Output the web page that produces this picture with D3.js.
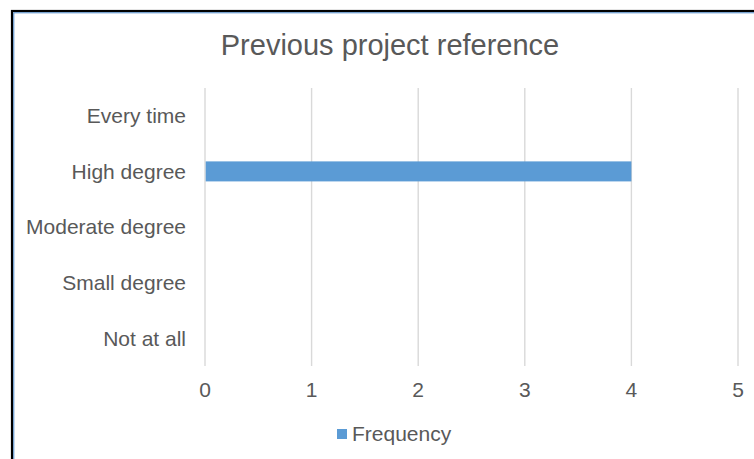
<!DOCTYPE html>
<html>
<head>
<meta charset="utf-8">
<script src="https://cdn.jsdelivr.net/npm/d3@7"></script>
<style>
  html, body { margin: 0; padding: 0; background: #fff; }
  svg { display: block; font-family: "Liberation Sans", Arial, sans-serif; }
</style>
</head>
<body>
<svg id="chart" width="754" height="459"></svg>
<script>
// Response categories, listed top to bottom
const categories = ["Every time", "High degree", "Moderate degree", "Small degree", "Not at all"];
// Frequency for each category
const frequency = [0, 4, 0, 0, 0];
// Value axis ticks
const xTicks = [0, 1, 2, 3, 4, 5];
const seriesName = "Frequency";
const chartTitle = "Previous project reference";

const svg = d3.select("#chart");
const textColor = "#595959";
const barColor = "#5b9bd5";
const gridColor = "#d9d9d9";

// Outer frame: dark border with a thin blue inner line
svg.append("rect").attr("x", 0).attr("y", 0).attr("width", 754).attr("height", 459).attr("fill", "#fff");
svg.append("rect")
  .attr("x", 12).attr("y", 11).attr("width", 760).attr("height", 470)
  .attr("fill", "none").attr("stroke", "#000").attr("stroke-width", 2.2);
svg.append("rect")
  .attr("x", 13.8).attr("y", 12.8).attr("width", 760).attr("height", 470)
  .attr("fill", "none").attr("stroke", "#4a86c5").attr("stroke-width", 1);

const x = d3.scaleLinear().domain([0, 5]).range([205, 738]);
const y = d3.scaleBand().domain(categories).range([88, 366]).paddingInner(0.64).paddingOuter(0.32);

// Vertical gridlines
svg.append("g").selectAll("line").data(xTicks).join("line")
  .attr("x1", d => x(d)).attr("x2", d => x(d))
  .attr("y1", 88).attr("y2", 366)
  .attr("stroke", gridColor).attr("stroke-width", 1.4);

// Bars
const data = categories.map((c, i) => ({ c, v: frequency[i] }));
svg.append("g").selectAll("rect").data(data.filter(d => d.v > 0)).join("rect")
  .attr("x", x(0) + 0.7)
  .attr("y", d => y(d.c))
  .attr("width", d => x(d.v) - x(0) - 0.7)
  .attr("height", y.bandwidth())
  .attr("fill", barColor);

// Category labels
svg.append("g").selectAll("text").data(categories).join("text")
  .attr("x", 186)
  .attr("y", d => y(d) + y.bandwidth() / 2)
  .attr("dy", "0.35em")
  .attr("text-anchor", "end")
  .attr("font-size", 21)
  .attr("fill", textColor)
  .text(d => d);

// Value tick labels
svg.append("g").selectAll("text").data(xTicks).join("text")
  .attr("x", d => x(d))
  .attr("y", 390)
  .attr("dy", "0.35em")
  .attr("text-anchor", "middle")
  .attr("font-size", 21)
  .attr("fill", textColor)
  .text(d => d);

// Title
svg.append("text")
  .attr("x", 390).attr("y", 45).attr("dy", "0.35em")
  .attr("text-anchor", "middle")
  .attr("font-size", 29)
  .attr("fill", textColor)
  .text(chartTitle);

// Legend
const legend = svg.append("g");
legend.append("rect").attr("x", 337).attr("y", 429).attr("width", 10).attr("height", 10).attr("fill", barColor);
legend.append("text")
  .attr("x", 352).attr("y", 434).attr("dy", "0.35em")
  .attr("font-size", 21).attr("fill", textColor)
  .text(seriesName);
</script>
</body>
</html>
